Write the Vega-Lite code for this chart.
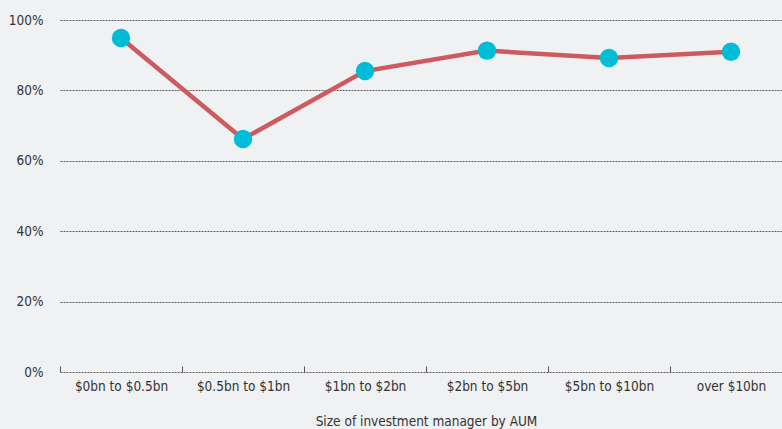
{
  "$schema": "https://vega.github.io/schema/vega-lite/v6.json",
  "width": 732,
  "height": 352,
  "autosize": {"type": "none"},
  "padding": {"left": 60, "top": 20, "right": 0, "bottom": 57},
  "background": "#f0f1f3",
  "config": {
    "view": {"stroke": null},
    "font": "DejaVu Sans Condensed",
    "axis": {"labelFont": "DejaVu Sans Condensed", "titleFont": "DejaVu Sans Condensed", "labelColor": "#333", "titleColor": "#333", "labelFontSize": 13.5, "titleFontSize": 13.5, "titleFontWeight": "normal"}
  },
  "data": {
    "values": [
      {"size": "$0bn to $0.5bn", "pct": 94.9},
      {"size": "$0.5bn to $1bn", "pct": 66.2},
      {"size": "$1bn to $2bn", "pct": 85.5},
      {"size": "$2bn to $5bn", "pct": 91.3},
      {"size": "$5bn to $10bn", "pct": 89.2},
      {"size": "over $10bn", "pct": 91.0}
    ]
  },
  "encoding": {
    "x": {
      "field": "size", "type": "nominal", "sort": null,
      "scale": {"paddingInner": 0, "paddingOuter": 0},
      "axis": {"labelAngle": 0, "domain": false, "ticks": true, "tickBand": "extent", "tickSize": -6, "tickOffset": 0, "tickColor": "#555", "labelPadding": 13, "title": "Size of investment manager by AUM", "titlePadding": 22}
    },
    "y": {
      "field": "pct", "type": "quantitative",
      "scale": {"domain": [0, 100]},
      "axis": {"values": [0, 20, 40, 60, 80, 100], "labelExpr": "datum.value + '%'", "domain": false, "ticks": false, "labelPadding": 17, "gridColor": "#333", "gridDash": [2, 1], "gridWidth": 0.8, "gridOpacity": 1, "title": null}
    }
  },
  "layer": [
    {"mark": {"type": "line", "color": "#cc5a5f", "strokeWidth": 4.5}},
    {"mark": {"type": "point", "filled": true, "color": "#00bcd6", "size": 340, "opacity": 1}}
  ]
}
